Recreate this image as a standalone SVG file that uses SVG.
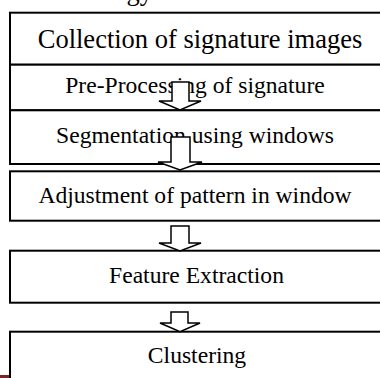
<svg xmlns="http://www.w3.org/2000/svg" width="380" height="378" viewBox="0 0 380 378">
<style>
.box{fill:#fff;stroke:#000;stroke-width:2}
.lbl{font-family:"Liberation Serif","Times New Roman",serif;fill:#000;text-anchor:middle;font-size:23.6px}
.big{font-size:26.5px}
.arr{fill:#fff;stroke:#000;stroke-width:1.5;stroke-linejoin:miter}
</style>
<rect width="380" height="378" fill="#fff"/>
<text class="lbl big" x="153" y="0" style="text-anchor:end">Methodology</text>
<g id="n1"><rect class="box" x="10" y="12.7" width="380" height="52"/><text class="lbl big" x="200" y="48">Collection of signature images</text></g>
<g id="n2"><rect class="box" x="10" y="64.7" width="380" height="45.6"/><text class="lbl" x="195" y="93">Pre-Processing of signature</text></g>
<g id="n3"><rect class="box" x="10" y="110.3" width="380" height="53.7"/><text class="lbl" x="195" y="143">Segmentation using windows</text></g>
<g id="n4"><rect class="box" x="10" y="171.3" width="380" height="49.4"/><text class="lbl" x="195" y="203">Adjustment of pattern in window</text></g>
<g id="n5"><rect class="box" x="10" y="250.7" width="380" height="52"/><text class="lbl" x="196.5" y="283">Feature Extraction</text></g>
<g id="n6"><rect class="box" x="10" y="331.7" width="380" height="60"/><text class="lbl" x="197" y="363">Clustering</text></g>
<g id="connectors">
<polygon class="arr" points="172,82 189,82 189,101 201,101 180,110 159,101 172,101"/>
<polygon class="arr" points="171,137 190,137 190,162 202,162 180,170 158,162 171,162"/>
<polygon class="arr" points="171,226 189,226 189,243 201,243 180,251 159,243 171,243"/>
<polygon class="arr" points="171,312 188,312 188,323 200,323 180,331.7 160,323 171,323"/>
</g>
<rect x="0" y="375" width="9" height="3" fill="#7a2626"/>
</svg>
